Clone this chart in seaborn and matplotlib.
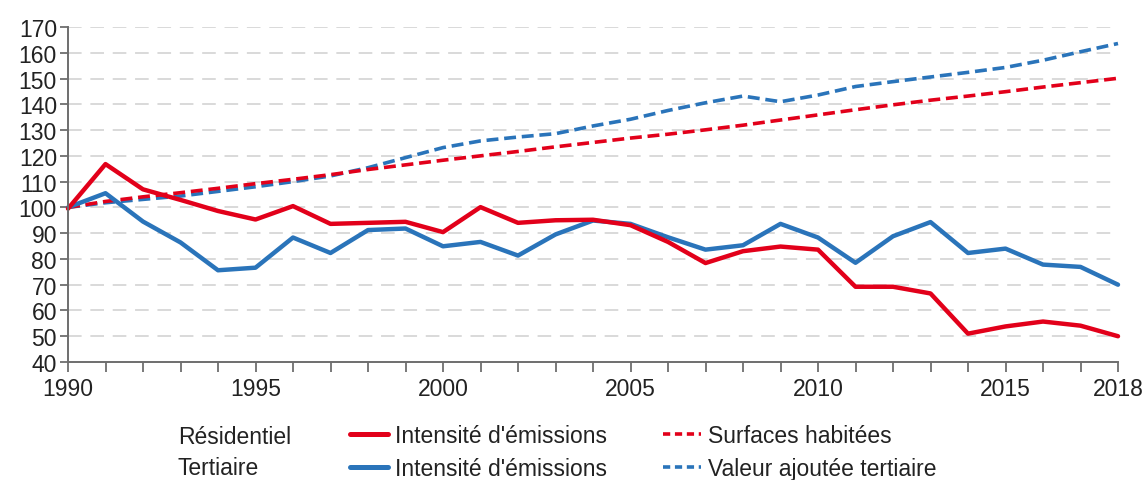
import numpy as np
import pandas as pd
import matplotlib
matplotlib.use("Agg")
import matplotlib.pyplot as plt
from matplotlib.lines import Line2D
import seaborn as sns

years = list(range(1990, 2019))

res_intensite = [99.5, 116.8, 107.0, 102.9, 98.6, 95.3, 100.5, 93.6, 94.0, 94.4,
                 90.4, 100.1, 94.0, 95.0, 95.2, 93.1, 86.6, 78.4, 83.0, 84.8,
                 83.6, 69.2, 69.2, 66.6, 51.0, 53.8, 55.7, 54.1, 50.0]
ter_intensite = [100.0, 105.5, 94.5, 86.4, 75.6, 76.6, 88.3, 82.3, 91.2, 91.8,
                 84.9, 86.6, 81.3, 89.5, 94.9, 93.6, 88.4, 83.6, 85.3, 93.6,
                 88.3, 78.5, 88.8, 94.3, 82.3, 84.0, 77.8, 76.9, 70.0]
surfaces = [100.0, 102.3, 104.1, 105.7, 107.4, 109.2, 110.9, 112.7, 114.7, 116.5,
            118.3, 120.0, 121.7, 123.5, 125.2, 126.9, 128.4, 130.1, 131.9, 133.9,
            135.9, 137.9, 139.8, 141.6, 143.2, 144.9, 146.7, 148.4, 150.1]
valeur_ajoutee = [100.0, 101.8, 103.1, 104.4, 106.2, 108.0, 110.0, 112.2, 115.4, 119.3,
                  123.2, 125.8, 127.3, 128.6, 131.6, 134.2, 137.6, 140.6, 143.2, 141.0,
                  143.6, 146.9, 148.8, 150.6, 152.4, 154.3, 157.1, 160.4, 163.6]

xtick_labels = [1990, 1995, 2000, 2005, 2010, 2015, 2018]
yticks = list(range(40, 171, 10))

row_labels = ["Résidentiel", "Tertiaire"]
series_labels = ["Intensité d'émissions", "Intensité d'émissions",
                 "Surfaces habitées", "Valeur ajoutée tertiaire"]

RED = "#E2001A"
BLUE = "#2A74BA"
TXT = "#222222"
SPINE = "#6e6e6e"

sns.set_style("white")
plt.rcParams['font.family'] = ['Liberation Sans', 'DejaVu Sans']

fig = plt.figure(figsize=(11.48, 4.81), dpi=100)
ax = fig.add_axes([68/1148, 1-363/481, (1118-68)/1148, (363-28)/481])

df = pd.DataFrame({"year": years, "res": res_intensite, "ter": ter_intensite,
                   "surf": surfaces, "va": valeur_ajoutee})

dash = (0, (3.3, 1.6))
sns.lineplot(data=df, x="year", y="va", ax=ax, color=BLUE, lw=2.6, linestyle=dash, clip_on=False)
sns.lineplot(data=df, x="year", y="surf", ax=ax, color=RED, lw=2.6, linestyle=dash, clip_on=False)
sns.lineplot(data=df, x="year", y="ter", ax=ax, color=BLUE, lw=3.2, clip_on=False)
sns.lineplot(data=df, x="year", y="res", ax=ax, color=RED, lw=3.2, clip_on=False)

ax.set_xlim(1990, 2018)
ax.set_ylim(40, 170)
ax.set_xlabel("")
ax.set_ylabel("")

for y in yticks[1:]:
    ax.axhline(y, color="#d9d9d9", lw=1.4, linestyle=(0, (7, 4.5)), zorder=0)

ax.set_yticks(yticks)
ax.set_yticklabels([str(v) for v in yticks])
ax.set_xticks(xtick_labels)
ax.set_xticklabels([str(v) for v in xtick_labels])
ax.set_xticks(years, minor=True)

for s in ["top", "right"]:
    ax.spines[s].set_visible(False)
for s in ["left", "bottom"]:
    ax.spines[s].set_color(SPINE)
    ax.spines[s].set_linewidth(1.4)

ax.tick_params(axis="y", which="major", direction="out", length=6, width=1.3,
               color=SPINE, labelsize=16.5, labelcolor=TXT, pad=2, left=True)
ax.tick_params(axis="x", which="both", direction="out", length=7, width=1.3,
               color=SPINE, labelsize=16.5, labelcolor=TXT, pad=4, bottom=True)

handles = [Line2D([], [], color=RED, lw=3.6),
           Line2D([], [], color=BLUE, lw=3.6),
           Line2D([], [], color=RED, lw=2.6, linestyle=(0, (2.0, 1.3))),
           Line2D([], [], color=BLUE, lw=2.6, linestyle=(0, (2.0, 1.3)))]
leg = fig.legend(handles, series_labels, ncol=2, loc="upper left",
                 bbox_to_anchor=(350/1148, 1-425/481), frameon=False,
                 fontsize=16.5, handlelength=1.66, handletextpad=0.3,
                 columnspacing=2.45, labelspacing=0.42, borderpad=0, borderaxespad=0)
for t in leg.get_texts():
    t.set_color(TXT)

fig.text(178/1148, 1-438/481, row_labels[0], fontsize=16.5, color=TXT, va="center", ha="left")
fig.text(178/1148, 1-469/481, row_labels[1], fontsize=16.5, color=TXT, va="center", ha="left")

fig.savefig("out.png", dpi=100)
